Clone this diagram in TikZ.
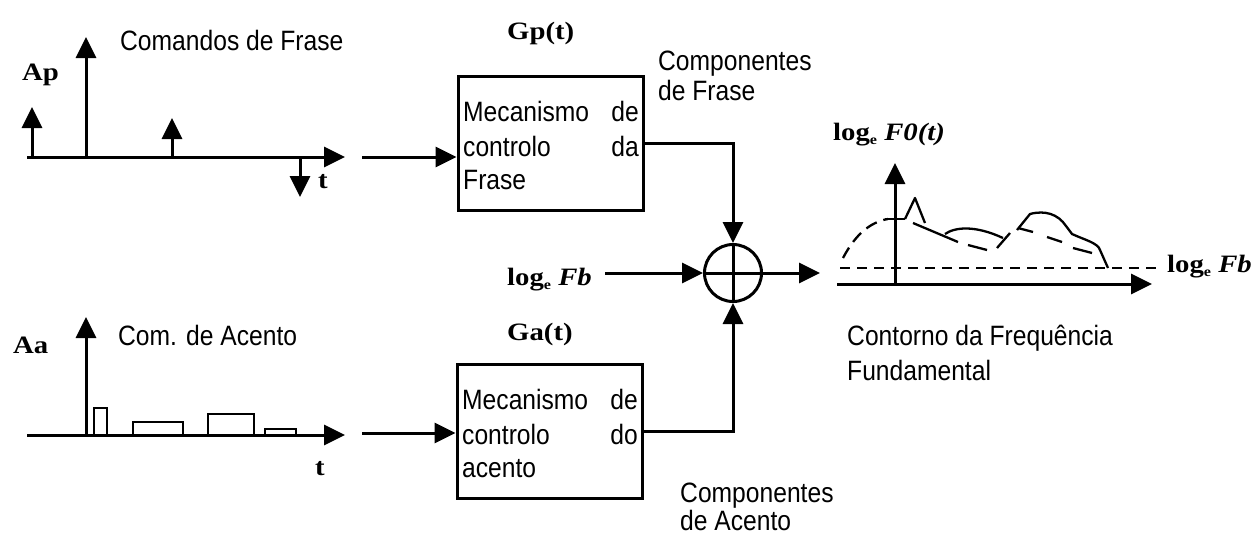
\documentclass[tikz,border=0pt]{standalone}
\usepackage{fontspec}
\newfontfamily\hv[FakeStretch=0.88]{Liberation Sans}
\newfontfamily\tmr[FakeStretch=1.15]{Liberation Serif}
\newcommand\sube{\raisebox{-0.35ex}{\fontsize{14}{14}\selectfont e}}
\usetikzlibrary{arrows.meta}
\begin{document}
\begin{tikzpicture}[x=1pt,y=-1pt,
  ln/.style={line width=3pt},
  thin/.style={line width=2.3pt},
  arr/.style={ln,-{Triangle[length=21pt,width=20pt]}},
  sans/.style={font=\hv\fontsize{28}{30}\selectfont,inner sep=0pt,anchor=base west},
  ser/.style={font=\tmr\bfseries\fontsize{25}{27}\selectfont,inner sep=0pt,anchor=base west},
  blk/.style={draw,line width=3pt,inner sep=0pt,minimum width=185pt,minimum height=134pt},
  dsh/.style={thin,dash pattern=on 10pt off 7pt}]
\useasboundingbox (0,0) rectangle (1255,536);

% ---------- phrase commands ----------
\node[ser] (ap) at (22,80) {Ap};
\node[sans] (cmdf) at (120,50) {Comandos de Frase};
\draw[arr] (27,157) -- (345,157);
\draw[arr] (32,157) -- (32,107);
\draw[arr] (86,157) -- (86,37);
\draw[arr] (172,157) -- (172,118);
\draw[arr] (300,157) -- (300,197);
\node[ser] (t1) at (318,188) {t};

% ---------- accent commands ----------
\node[ser] (aa) at (13,353) {Aa};
\node[sans] (cmda) at (118,345) {Com. de Acento};
\draw[arr] (27,435) -- (345,435);
\draw[arr] (86,435) -- (86,317);
\draw[thin] (94,435) |- (107,408) -- (107,435);
\draw[thin] (133,435) |- (183,422) -- (183,435);
\draw[thin] (208,435) |- (254,414) -- (254,435);
\draw[thin] (265,435) |- (296,429) -- (296,435);
\node[ser] (t2) at (315,475) {t};

% ---------- blocks ----------
\node[blk] (gp) at (550.5,143.5) {};
\node[ser] (gpl) at (507,39) {Gp(t)};
\node[sans,anchor=base west] (g1a) at (463,121) {Mecanismo};
\node[sans,anchor=base east] (g1b) at (639,121) {de};
\node[sans,anchor=base west] (g1c) at (463,156) {controlo};
\node[sans,anchor=base east] (g1d) at (639,156) {da};
\node[sans,anchor=base west] (g1e) at (463,189) {Frase};

\node[blk] (ga) at (549.5,431) {};
\node[ser] (gal) at (507,340) {Ga(t)};
\node[sans,anchor=base west] (g2a) at (462,409) {Mecanismo};
\node[sans,anchor=base east] (g2b) at (638,409) {de};
\node[sans,anchor=base west] (g2c) at (462,444) {controlo};
\node[sans,anchor=base east] (g2d) at (638,444) {do};
\node[sans,anchor=base west] (g2e) at (462,477) {acento};

\node[sans] (cf1) at (658,70) {Componentes};
\node[sans] (cf2) at (658,100) {de Frase};
\node[sans] (ca1) at (680,502) {Componentes};
\node[sans] (ca2) at (680,530) {de Acento};

% ---------- sum ----------
\node[draw,circle,ln,minimum size=57pt,inner sep=0pt] (sum) at (733,273) {};
\draw[ln] (sum.north) -- (sum.south);
\draw[ln] (sum.west) -- (sum.east);

\coordinate (pin) at (362,157);
\coordinate (ain) at (362,433);
\draw[arr] (pin) -- (gp.west |- pin);
\draw[arr] (ain) -- (ga.west |- ain);
\draw[arr] (gp.east) -| (sum.north);
\draw[arr] (ga.east) -| (sum.south);

\node[ser] (fb) at (507,285) {log\sube\ \textit{Fb}};
\coordinate (fbin) at (605,273);
\draw[arr] (fbin) -- (sum.west);
\coordinate (f0in) at (820,273);
\draw[arr] (sum.east) -- (f0in);

% ---------- F0 contour ----------
\node[ser] (f0l) at (833,140) {log\sube\ \textit{F0(t)}};
\node[ser] (fbr) at (1167,272) {log\sube\ \textit{Fb}};
\node[sans] (ct1) at (847,345) {Contorno da Frequência};
\node[sans] (ct2) at (847,380) {Fundamental};

\draw[arr] (837,284) -- (1152,284);
\draw[arr] (895,284) -- (895,163);
\draw[dsh] (840,268) -- (1162,268);
\draw[thin] (885,219) -- (905,219);
\draw[dsh,dash pattern=on 12pt off 7pt] (843,258) .. controls (855,235) and (870,222) .. (888,219);
\draw[thin,line join=round] (905,219) -- (915,198) -- (925,223);
\draw[thin] (913,223) -- (958,242);
\draw[thin] (945,234) .. controls (955,227) and (975,225) .. (1003,238);
\draw[thin] (1010,233) -- (997,248);
\draw[thin] (968,245) -- (987,250);
\draw[thin,line join=round] (1017,230) -- (1030,214) .. controls (1045,210) and (1058,214) .. (1066,226) -- (1072,234) .. controls (1085,240) and (1098,243) .. (1100,250) -- (1108,268);
\draw[thin] (1018,228) -- (1033,232);
\draw[thin] (1047,237) -- (1062,242);
\draw[thin] (1073,248) -- (1092,253);
\end{tikzpicture}
\end{document}
